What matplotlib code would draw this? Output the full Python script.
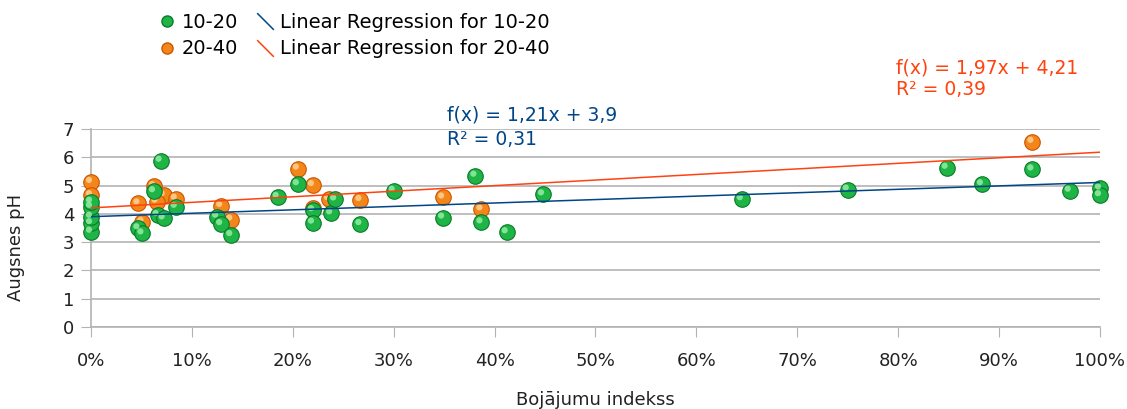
import matplotlib.pyplot as plt
import matplotlib.transforms as mtransforms
from matplotlib.lines import Line2D
from matplotlib.path import Path
from matplotlib.ticker import PercentFormatter

# damage index (fraction) and soil pH, depth 10-20
x_10_20 = [0.0, 0.0, 0.0, 0.0, 0.0, 0.069, 0.0625, 0.047, 0.051, 0.066, 0.072, 0.084,
           0.125, 0.129, 0.139, 0.185, 0.205, 0.22, 0.22, 0.238, 0.242, 0.267,
           0.30, 0.349, 0.381, 0.387, 0.412, 0.448,
           0.645, 0.75, 0.848, 0.883, 0.933, 0.97, 1.0, 1.0]
ph_10_20 = [3.37, 3.67, 3.9, 4.25, 4.43, 5.88, 4.8, 3.49, 3.31, 3.96, 3.84, 4.25,
            3.9, 3.64, 3.25, 4.6, 5.05, 4.13, 3.69, 4.02, 4.51, 3.64,
            4.82, 3.87, 5.35, 3.7, 3.35, 4.69,
            4.52, 4.86, 5.63, 5.05, 5.57, 4.82, 4.9, 4.66]

# depth 20-40
x_20_40 = [0.0, 0.0, 0.047, 0.051, 0.0625, 0.072, 0.065, 0.084, 0.129, 0.139,
           0.205, 0.22, 0.22, 0.236, 0.267, 0.349, 0.387, 0.933]
ph_20_40 = [5.13, 4.66, 4.37, 3.72, 4.98, 4.66, 4.43, 4.54, 4.28, 3.8,
            5.6, 5.02, 4.19, 4.52, 4.49, 4.58, 4.16, 6.55]

# regression coefficients
slope_10_20, icpt_10_20, r2_10_20 = 1.21, 3.9, 0.31
slope_20_40, icpt_20_40, r2_20_40 = 1.97, 4.21, 0.39

green, green_dark, green_light = '#1fb446', '#0b7a2a', '#9cf0aa'
orange, orange_dark, orange_light = '#f3861b', '#cc5500', '#ffd59a'
blue_line = '#004586'
red_line = '#ff420e'
text_col = '#222222'

plt.rcParams['font.family'] = ['DejaVu Sans']

fig = plt.figure(figsize=(11.27, 4.09), dpi=100)
ax = fig.add_axes([0.0807, 0.2005, 0.8953, 0.4841])


def spheres(xs, ys, base, dark, light, z):
    ax.scatter(xs, ys, s=125, color=base, edgecolors=dark, linewidths=0.8,
               zorder=z, clip_on=False)
    hl = mtransforms.offset_copy(ax.transData, fig=fig, x=-2, y=2, units='dots')
    ax.scatter(xs, ys, s=20, color=light, edgecolors='none', alpha=0.8,
               transform=hl, zorder=z + 0.1, clip_on=False)


# 20-40 underneath, 10-20 on top
spheres(x_20_40, ph_20_40, orange, orange_dark, orange_light, 3)
spheres(x_10_20, ph_10_20, green, green_dark, green_light, 4)

xs = [0.0, 1.0]
ax.plot(xs, [icpt_10_20 + slope_10_20 * v for v in xs], color=blue_line, lw=1.1, zorder=5)
ax.plot(xs, [icpt_20_40 + slope_20_40 * v for v in xs], color=red_line, lw=1.1, zorder=5)

ax.set_xlim(0, 1)
ax.set_ylim(0, 7)
ax.set_yticks(range(0, 8))
ax.set_xticks([i / 10 for i in range(11)])
ax.xaxis.set_major_formatter(PercentFormatter(1.0, decimals=0))
ax.grid(axis='y', color='#b3b3b3', lw=1.2)
ax.set_axisbelow(True)
for side in ['top', 'right']:
    ax.spines[side].set_visible(False)
for side in ['left', 'bottom']:
    ax.spines[side].set_color('#b3b3b3')
    ax.spines[side].set_linewidth(1.2)
ax.tick_params(axis='both', colors='#b3b3b3', labelcolor=text_col, labelsize=13, length=7)
ax.tick_params(axis='x', pad=11)
ax.tick_params(axis='y', pad=5)
ax.set_xlabel('Bojājumu indekss', fontsize=13, color=text_col, labelpad=15)
ax.set_ylabel('Augsnes pH', fontsize=13, color=text_col)
ax.yaxis.set_label_coords(-0.065, 0.40)

eq_size = 13.5
ax.text(0.353, 7.49, f'f(x) = {slope_10_20:.2f}x + {icpt_10_20:.1f}'.replace('.', ','),
        color=blue_line, fontsize=eq_size, va='center', ha='left', clip_on=False)
ax.text(0.353, 6.64, f'R² = {r2_10_20:.2f}'.replace('.', ','),
        color=blue_line, fontsize=eq_size, va='center', ha='left', clip_on=False)
ax.text(0.798, 9.15, f'f(x) = {slope_20_40:.2f}x + {icpt_20_40:.2f}'.replace('.', ','),
        color=red_line, fontsize=eq_size, va='center', ha='left', clip_on=False)
ax.text(0.798, 8.41, f'R² = {r2_20_40:.2f}'.replace('.', ','),
        color=red_line, fontsize=eq_size, va='center', ha='left', clip_on=False)

diag = Path([(-1, 1), (1, -1)], [Path.MOVETO, Path.LINETO])
handles = [
    Line2D([], [], ls='none', marker='o', ms=8, color=green, mec=green_dark),
    Line2D([], [], ls='none', marker='o', ms=8, color=orange, mec=orange_dark),
    Line2D([], [], ls='none', marker=diag, ms=12, mec=blue_line, mew=1.1),
    Line2D([], [], ls='none', marker=diag, ms=12, mec=red_line, mew=1.1),
]
labels = ['10-20', '20-40', 'Linear Regression for 10-20', 'Linear Regression for 20-40']
fig.legend(handles, labels, ncol=2, loc='upper left', bbox_to_anchor=(0.1245, 1.012),
           frameon=False, fontsize=14, handlelength=0.9, handletextpad=0.35,
           columnspacing=0.9, labelspacing=0.4)

fig.savefig('out.png', dpi=100)
